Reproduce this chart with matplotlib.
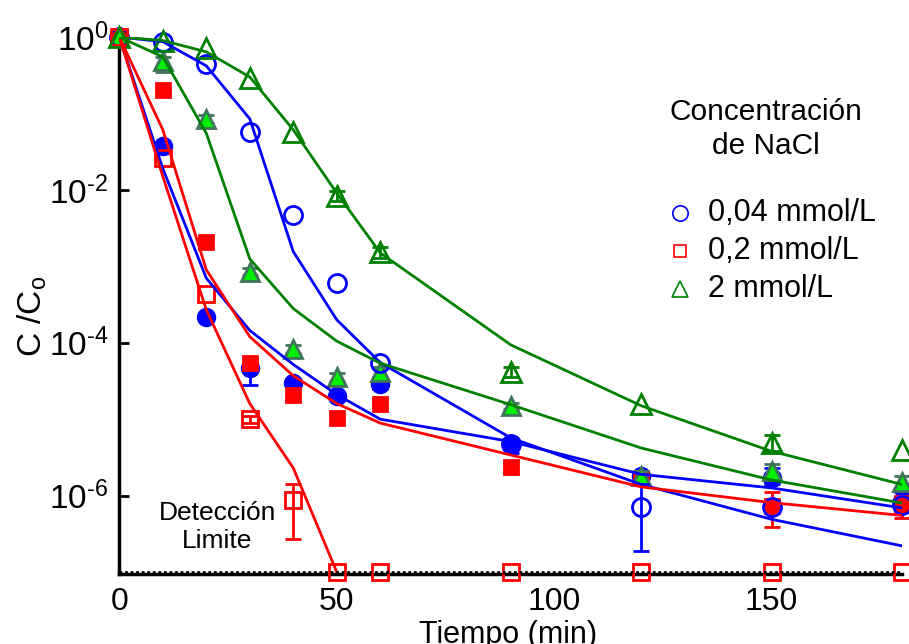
import numpy as np
import matplotlib.pyplot as plt
from matplotlib.lines import Line2D
from matplotlib.ticker import NullLocator

plt.rcParams['font.family'] = ['Liberation Sans', 'DejaVu Sans']
plt.rcParams['mathtext.fontset'] = 'custom'
plt.rcParams['mathtext.rm'] = 'Liberation Sans'
plt.rcParams['mathtext.it'] = 'Liberation Sans:italic'

nan = np.nan

# sampling times (min)
tiempo = [0, 10, 20, 30, 40, 50, 60, 90, 120, 150, 180]

# measured C/Co, two runs per NaCl concentration
azul_abierto = [1, 0.86, 0.44, 0.058, 0.0047, 6.1e-4, 5.5e-5, 4.8e-6, 7.2e-7, 7.0e-7, 7.5e-7]
azul_lleno = [1, 0.037, 2.2e-4, 4.7e-5, 3.0e-5, 2.0e-5, 2.9e-5, 4.6e-6, 1.8e-6, 1.7e-6, 8.5e-7]
rojo_abierto = [1, 0.026, 4.3e-4, 1.0e-5, 8.7e-7, 1e-7, 1e-7, 1e-7, 1e-7, 1e-7, 1e-7]
rojo_lleno = [1, 0.2, 2.1e-3, 5.4e-5, 2.1e-5, 1.04e-5, 1.6e-5, 2.4e-6, 1.7e-6, 7.4e-7, 7.6e-7]
verde_abierto = [1, 0.9, 0.71, 0.29, 0.058, 0.0084, 1.56e-3, 4.2e-5, 1.6e-5, 4.9e-6, 4.0e-6]
verde_lleno = [1, 0.49, 0.084, 8.5e-4, 8.3e-5, 3.6e-5, 4.2e-5, 1.5e-5, 1.8e-6, 2.1e-6, 1.5e-6]

# error bar limits (low, high); nan = no bar
azul_abierto_lo = [nan, nan, nan, nan, nan, nan, nan, nan, 1.9e-7, nan, nan]
azul_abierto_hi = [nan, nan, nan, nan, nan, nan, nan, nan, 1.4e-6, nan, nan]
azul_lleno_lo = [nan, nan, nan, 2.8e-5, nan, nan, 2.5e-5, 3.6e-6, nan, 1.4e-6, 7.0e-7]
azul_lleno_hi = [nan, nan, nan, 5.5e-5, nan, nan, 3.3e-5, 5.3e-6, nan, 2.3e-6, 1.1e-6]
rojo_abierto_lo = [nan, nan, nan, 9.0e-6, 2.7e-7, nan, nan, nan, nan, nan, nan]
rojo_abierto_hi = [nan, nan, nan, 1.1e-5, 1.4e-6, nan, nan, nan, nan, nan, nan]
rojo_lleno_lo = [nan, nan, nan, nan, nan, nan, nan, 2.1e-6, nan, 3.9e-7, 5.1e-7]
rojo_lleno_hi = [nan, nan, nan, nan, nan, nan, nan, 2.7e-6, nan, 1.1e-6, 1.0e-6]
verde_abierto_lo = [nan, nan, nan, nan, nan, 7.2e-3, 1.3e-3, 3.6e-5, nan, 3.8e-6, nan]
verde_abierto_hi = [nan, nan, nan, nan, nan, 9.6e-3, 1.8e-3, 4.8e-5, nan, 6.3e-6, nan]
verde_lleno_lo = [nan, 0.35, 0.074, 7.6e-4, 7.4e-5, 3.2e-5, 3.6e-5, 1.35e-5, 1.5e-6, 1.7e-6, 1.2e-6]
verde_lleno_hi = [nan, 0.55, 0.095, 9.5e-4, 9.3e-5, 4.0e-5, 4.8e-5, 1.65e-5, 2.1e-6, 2.6e-6, 1.8e-6]

# model curves
modelo_azul_abierto = [1, 0.87, 0.42, 0.085, 1.56e-3, 2.0e-4, 5.5e-5, 5.7e-6, 1.4e-6, 4.9e-7, 2.2e-7]
modelo_azul_lleno = [1, 0.019, 7e-4, 1.45e-4, 5.2e-5, 2.1e-5, 1.0e-5, 5.1e-6, 1.9e-6, 1.26e-6, 6.9e-7]
modelo_rojo_abierto = [1, 0.015, 2.7e-4, 1.6e-5, 2.3e-6, 1e-7]
modelo_rojo_lleno = [1, 0.061, 9e-4, 1.2e-4, 3.7e-5, 1.6e-5, 8.9e-6, 3.4e-6, 1.3e-6, 8.1e-7, 5.5e-7]
modelo_verde_abierto = [1, 0.9, 0.64, 0.30, 0.061, 9.1e-3, 1.5e-3, 9.4e-5, 1.5e-5, 3.8e-6, 1.4e-6]
modelo_verde_lleno = [1, 0.55, 0.055, 1.25e-3, 2.8e-4, 1.05e-4, 5.4e-5, 1.55e-5, 4.2e-6, 1.6e-6, 8.0e-7]

limite = 1e-7
etiquetas = ['0,04 mmol/L', '0,2 mmol/L', '2 mmol/L']

AZUL = '#0000ff'
ROJO = '#ff0000'
VERDE = '#008000'
VERDE_CLARO = '#00ee00'
VERDE_BORDE = '#3f7458'

fig = plt.figure(figsize=(9.09, 6.44), dpi=100)
ax = fig.add_axes([0.1313, 0.108, 0.861, 0.8345])


def serie(y, lo, hi, marker, ms, face, edge, ecolor, z):
    y = np.array(y, dtype=float)
    lo = np.array(lo, dtype=float)
    hi = np.array(hi, dtype=float)
    t = np.array(tiempo, dtype=float)
    # only points that carry an error bar
    con = ~np.isnan(lo)
    ax.errorbar(t[con], y[con], yerr=[y[con] - lo[con], hi[con] - y[con]],
                fmt='none', ecolor=ecolor, elinewidth=2, capsize=6,
                capthick=2, clip_on=False, zorder=z)
    ax.plot(t, y, ls='none', marker=marker, ms=ms, mfc=face, mec=edge,
            mew=2, clip_on=False, zorder=z)


# filled symbols
serie(azul_lleno, azul_lleno_lo, azul_lleno_hi, 'o', 12, AZUL, AZUL, AZUL, 3)
serie(rojo_lleno, rojo_lleno_lo, rojo_lleno_hi, 's', 10, ROJO, ROJO, ROJO, 4)
serie(verde_lleno, verde_lleno_lo, verde_lleno_hi, '^', 13, VERDE_CLARO,
      VERDE_BORDE, VERDE_BORDE, 5)
# open symbols
serie(azul_abierto, azul_abierto_lo, azul_abierto_hi, 'o', 13, 'none', AZUL, AZUL, 6)
serie(rojo_abierto, rojo_abierto_lo, rojo_abierto_hi, 's', 11, 'none', ROJO, ROJO, 6)
serie(verde_abierto, verde_abierto_lo, verde_abierto_hi, '^', 14, 'none', VERDE, VERDE, 6)

# model lines
ax.plot(tiempo, modelo_azul_abierto, color=AZUL, lw=2, zorder=7)
ax.plot(tiempo, modelo_azul_lleno, color=AZUL, lw=2, zorder=7)
ax.plot(tiempo[:len(modelo_rojo_abierto)], modelo_rojo_abierto, color=ROJO, lw=2, zorder=7)
ax.plot(tiempo, modelo_rojo_lleno, color=ROJO, lw=2, zorder=7)
ax.plot(tiempo, modelo_verde_abierto, color=VERDE, lw=2, zorder=7)
ax.plot(tiempo, modelo_verde_lleno, color=VERDE, lw=2, zorder=7)

# detection limit
ax.axhline(limite, color='k', lw=2, ls=(0, (1, 1)), zorder=8, clip_on=False)
ax.text(22.5, 3.9e-7, 'Detección\nLimite', ha='center', va='center',
        fontsize=19, linespacing=1.2)

ax.set_xlim(0, 180)
ax.set_yscale('log')
ax.set_ylim(9.3e-8, 1)
ax.set_xticks([0, 50, 100, 150])
ax.set_yticks([1, 1e-2, 1e-4, 1e-6])
ax.set_yticklabels([r'$\mathregular{10^{0}}$', r'$\mathregular{10^{‐2}}$',
                    r'$\mathregular{10^{‐4}}$', r'$\mathregular{10^{‐6}}$'])
ax.yaxis.set_minor_locator(NullLocator())
ax.tick_params(axis='both', direction='in', length=7, width=2, labelsize=24)
ax.tick_params(axis='x', pad=9, length=0, labelsize=23)
ax.tick_params(axis='y', pad=8)

for lado in ['top', 'right']:
    ax.spines[lado].set_visible(False)
for lado in ['left', 'bottom']:
    ax.spines[lado].set_linewidth(2.5)

ax.set_xlabel('Tiempo (min)', fontsize=22)
ax.xaxis.set_label_coords(0.497, -0.084)
ax.set_ylabel(r'C /C$_\mathregular{o}$', fontsize=24)
ax.yaxis.set_label_coords(-0.09, 0.48)

# legend, drawn by hand
fig.text(0.843, 0.800, 'Concentración\nde NaCl', ha='center', va='center',
         fontsize=21.5, linespacing=1.3)
simbolos = [('o', 13, AZUL), ('s', 11, ROJO), ('^', 14, VERDE)]
for i, (m, ms, c) in enumerate(simbolos):
    yf = 0.669 - i * 0.059
    fig.add_artist(Line2D([0.748], [yf], marker=m, ms=ms * 0.85, mfc='none',
                          mec=c, mew=1.2, transform=fig.transFigure))
    fig.text(0.779, yf, etiquetas[i], ha='left', va='center', fontsize=22)

fig.savefig('out.png', dpi=100)
